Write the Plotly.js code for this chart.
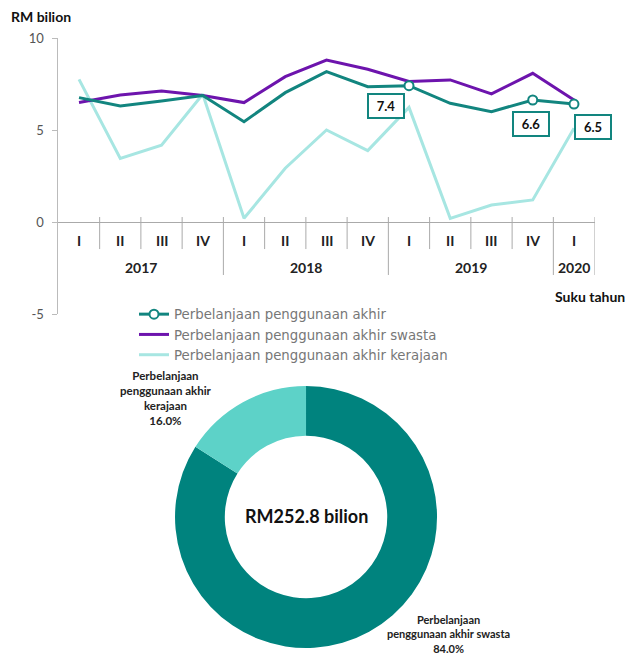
<!DOCTYPE html>
<html>
<head>
<meta charset="utf-8">
<script src="https://cdn.plot.ly/plotly-3.0.1.min.js"></script>
<style>html,body{margin:0;padding:0;background:#fff;}#chart{width:633px;height:657px;}</style>
</head>
<body>
<div id="chart"></div>
<script>
// ---- data ----
var quarters = ["I","II","III","IV","I","II","III","IV","I","II","III","IV","I"];
var years = ["2017","2017","2017","2017","2018","2018","2018","2018","2019","2019","2019","2019","2020"];
var yearLabels = ["2017","2018","2019","2020"];
var totalVals = [6.76, 6.3, 6.58, 6.87, 5.45, 7.03, 8.17, 7.35, 7.41, 6.45, 6.0, 6.63, 6.41];
var privateVals = [6.5, 6.9, 7.12, 6.87, 6.49, 7.9, 8.8, 8.3, 7.64, 7.72, 6.96, 8.08, 6.63];
var govtVals = [7.75, 3.46, 4.18, 6.94, 0.2, 2.92, 5.0, 3.88, 6.23, 0.2, 0.92, 1.2, 5.09];
var yTickVals = [-5, 0, 5, 10];
var yTickText = ["-5", "0", "5", "10"];
var markedIdx = [8, 11, 12];
var markedText = ["7.4", "6.6", "6.5"];
var seriesNames = ["Perbelanjaan penggunaan akhir", "Perbelanjaan penggunaan akhir swasta", "Perbelanjaan penggunaan akhir kerajaan"];
var pieLabels = ["Perbelanjaan<br>penggunaan akhir swasta", "Perbelanjaan<br>penggunaan akhir<br>kerajaan"];
var pieValues = [84.0, 16.0];
var pieCenterText = "RM252.8 bilion";

// ---- styles ----
var cTeal = "#12857f", cPurple = "#6d14ad", cLight = "#a7e6e2";
var pieColors = ["#00837e", "#5dd2c8"];
var F = "Lato, 'Open Sans', sans-serif";
var FL = "'DejaVu Sans', sans-serif";

var cats = quarters.map(function(q, i){ return years[i] + " " + q; });

var traces = [
  {x: cats, y: govtVals, name: seriesNames[2], type: "scatter", mode: "lines",
   line: {color: cLight, width: 3}, legendrank: 3, hoverinfo: "skip"},
  {x: cats, y: privateVals, name: seriesNames[1], type: "scatter", mode: "lines",
   line: {color: cPurple, width: 3}, legendrank: 2, hoverinfo: "skip"},
  {x: cats, y: totalVals, name: seriesNames[0], type: "scatter", mode: "lines+markers",
   line: {color: cTeal, width: 3}, legendrank: 1, hoverinfo: "skip",
   marker: {size: 9, color: "#fff", line: {color: cTeal, width: 2}},
   selectedpoints: markedIdx,
   selected: {marker: {opacity: 1}}, unselected: {marker: {opacity: 0}}},
  {type: "pie", labels: pieLabels, values: pieValues, sort: false, direction: "clockwise",
   rotation: 0, hole: 0.62, marker: {colors: pieColors}, textinfo: "none", showlegend: false,
   hoverinfo: "skip", domain: {x: [0.2765, 0.6904], y: [0.0137, 0.4125]}}
];

var annotations = [];
var shapes = [];
// quarter labels
quarters.forEach(function(q, i){
  annotations.push({x: i, y: -0.98, xref: "x", yref: "y", text: q, showarrow: false,
    xanchor: "center", yanchor: "middle",
    font: {family: F, size: 14, color: "#222", weight: "bold"}});
});
// year labels & dividers
var yearPos = {};
years.forEach(function(y, i){ (yearPos[y] = yearPos[y] || []).push(i); });
yearLabels.forEach(function(y){
  var idx = yearPos[y];
  var mid = (idx[0] + idx[idx.length - 1]) / 2;
  annotations.push({x: mid, y: -2.45, xref: "x", yref: "y", text: y, showarrow: false,
    xanchor: "center", yanchor: "middle",
    font: {family: F, size: 14, color: "#222", weight: "bold"}});
});
for (var i = 0; i < cats.length; i++) {
  var isYearEnd = (i === cats.length - 1) || years[i] !== years[i + 1];
  shapes.push({type: "line", xref: "x", yref: "y", x0: i + 0.5, x1: i + 0.5, y0: 0.27,
    y1: isYearEnd ? -2.88 : -1.47, line: {color: "#aaa", width: 1}});
}
// value boxes
var shifts = [[-23, -20], [-2, -24], [19, -23]];
markedIdx.forEach(function(k, j){
  annotations.push({x: cats[k], y: totalVals[k], xref: "x", yref: "y", text: markedText[j],
    showarrow: false, xshift: shifts[j][0], yshift: shifts[j][1], xanchor: "center", yanchor: "middle",
    bgcolor: "#fff", bordercolor: cTeal, borderwidth: 2, borderpad: 3, width: 28, height: 16,
    font: {family: F, size: 13, color: "#111", weight: "bold"}});
});
function paperAnn(px, py, text, font) {
  return {x: px / 633, y: 1 - py / 657, xref: "paper", yref: "paper", xanchor: "center",
    yanchor: "middle", text: text, showarrow: false, font: font};
}
// axis titles
annotations.push(paperAnn(41, 16, "RM bilion", {family: F, size: 14, color: "#111", weight: "bold"}));
annotations.push(paperAnn(590, 296, "Suku tahun", {family: F, size: 14, color: "#111", weight: "bold"}));
// pie labels
annotations.push(paperAnn(166, 398, pieLabels[1] + "<br>" + pieValues[1].toFixed(1) + "%",
  {family: F, size: 11.5, color: "#222", weight: "bold"}));
annotations.push(paperAnn(448, 634, pieLabels[0] + "<br>" + pieValues[0].toFixed(1) + "%",
  {family: F, size: 11, color: "#222", weight: "bold"}));
annotations.push(paperAnn(306, 516, pieCenterText, {family: F, size: 18, color: "#111", weight: "bold"}));

var layout = {
  width: 633, height: 657, margin: {l: 0, r: 0, t: 0, b: 0},
  paper_bgcolor: "#fff", plot_bgcolor: "#fff", showlegend: true,
  xaxis: {domain: [58.4 / 633, 594.6 / 633], type: "category", categoryarray: cats,
    range: [-0.5, 12.5], showticklabels: false, showgrid: false, zeroline: false,
    showline: false, ticks: "", fixedrange: true},
  yaxis: {domain: [1 - 314 / 657, 1 - 38 / 657], range: [-5, 10], tickmode: "array",
    tickvals: yTickVals, ticktext: yTickText,
    showgrid: false, zeroline: true, zerolinecolor: "#aaa", zerolinewidth: 1,
    showline: true, linecolor: "#bbb", linewidth: 1, ticks: "outside", ticklen: 5,
    tickcolor: "#bbb", ticklabelstandoff: 6, tickfont: {family: F, size: 13, color: "#555"}},
  legend: {x: 134 / 633, y: 1 - 299 / 657, xanchor: "left", yanchor: "top",
    font: {family: FL, size: 13.3, color: "#777"}, itemwidth: 30, tracegroupgap: 0,
    bgcolor: "rgba(0,0,0,0)"},
  annotations: annotations, shapes: shapes
};

Plotly.newPlot("chart", traces, layout, {displayModeBar: false, staticPlot: true});
</script>
</body>
</html>
